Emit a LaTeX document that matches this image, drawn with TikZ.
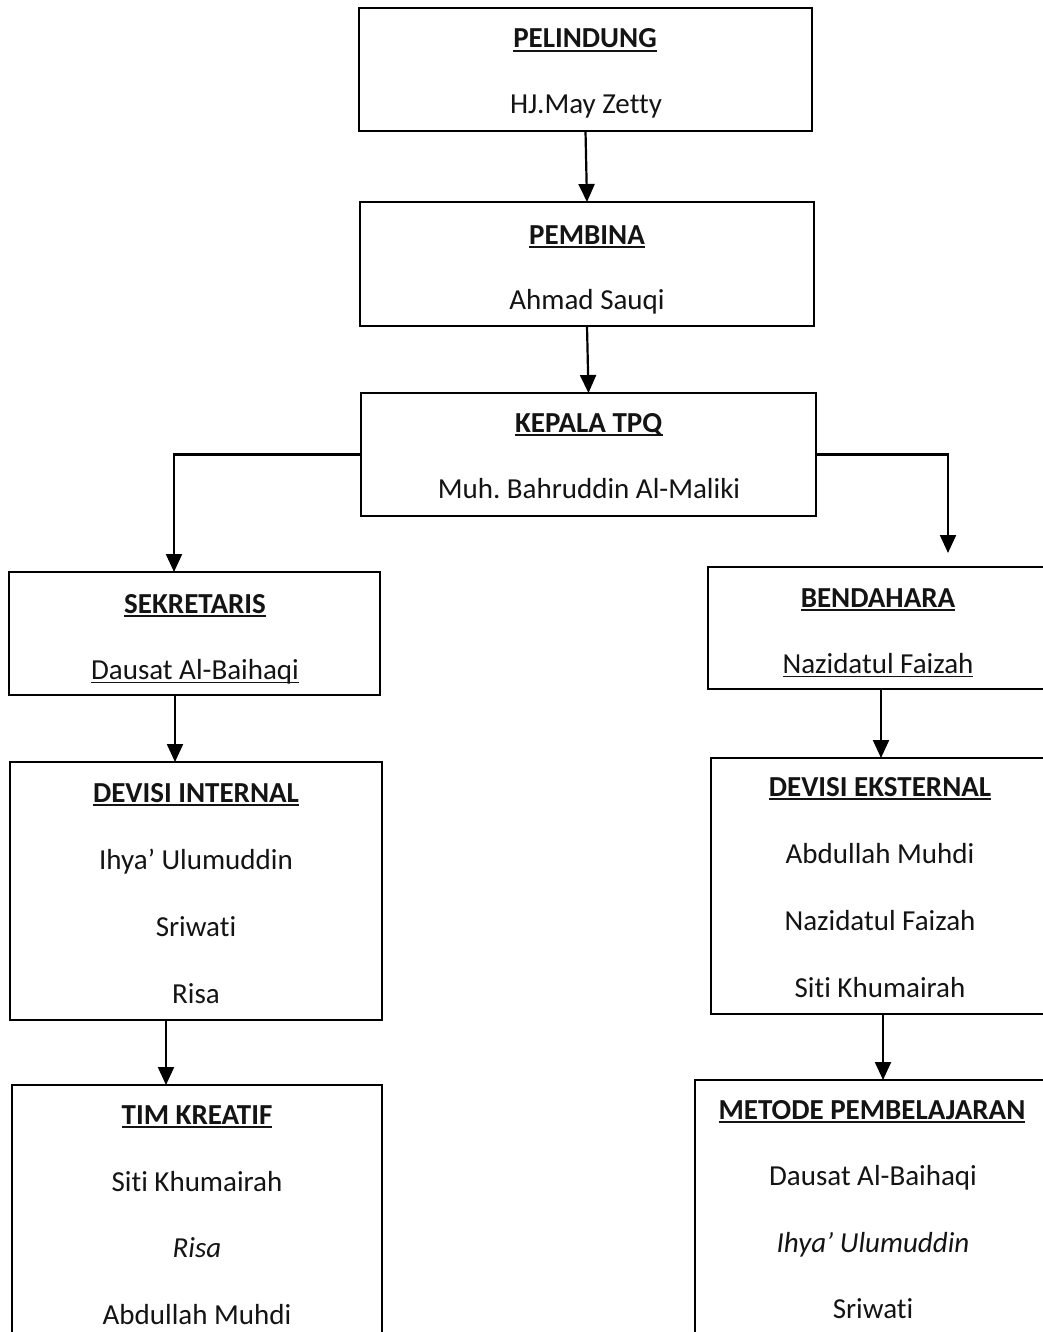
\documentclass[tikz,border=0pt]{standalone}
\usepackage{fontspec}
\setmainfont[Ligatures=NoCommon]{Carlito}
\usetikzlibrary{arrows.meta}
\newcommand\myul[2][1.8pt]{\setbox0\hbox{#2}\rlap{\rule[-4pt]{\wd0}{#1}}\box0}
\newcommand\mkbox[5]{\node[boxn, minimum width={#4-#2}, minimum height={#5-#3}] (#1) at ({(#2+#4)/2},{(#3+#5)/2}) {};}
\tikzset{
  boxn/.style={draw=black, line width=2.2pt, rectangle, inner sep=0pt, outer sep=0pt},
  lbl/.style={anchor=base, inner sep=0pt, font=\fontsize{29}{35}\selectfont, text=black!92},
  conn/.style={draw=black, line width=2.2pt, -{Triangle[width=16pt,length=18pt]}}
}
\begin{document}
\frenchspacing
\begin{tikzpicture}[x=1pt,y=-1pt]
\useasboundingbox (0,0) rectangle (1043,1332);
\clip (0,0) rectangle (1043,1332);
\fill[white] (0,0) rectangle (1043,1332);
% boxes
\mkbox{p1}{359}{8}{812}{131}
\mkbox{p2}{360}{202}{814}{326}
\mkbox{k}{361}{393}{816}{516}
\mkbox{s}{9}{572}{380}{695}
\mkbox{b}{708}{567}{1052}{689}
\mkbox{di}{10}{762}{382}{1020}
\mkbox{de}{711}{758}{1052}{1014}
\mkbox{tk}{12}{1085}{382}{1350}
\mkbox{m}{695}{1080}{1052}{1350}
% texts
\node[lbl] (t1) at (585,48) {\myul{\textbf{PELINDUNG}}};
\node[lbl] (n1) at (586,114) {HJ.May Zetty};
\node[lbl] (t2) at (587,244) {\myul{\textbf{PEMBINA}}};
\node[lbl] (n2) at (587,309) {Ahmad Sauqi};
\node[lbl] (t3) at (589,432) {\myul{\textbf{KEPALA TPQ}}};
\node[lbl] (n3) at (589,498) {Muh.\ Bahruddin Al-Maliki};
\node[lbl] (t4) at (195,613) {\myul{\textbf{SEKRETARIS}}};
\node[lbl] (n4) at (195,679) {\myul[1pt]{Dausat Al-Baihaqi}};
\node[lbl] (t5) at (878,607) {\myul{\textbf{BENDAHARA}}};
\node[lbl] (n5) at (878,673) {\myul[1pt]{Nazidatul Faizah}};
\node[lbl] (t6) at (196,802) {\myul{\textbf{DEVISI INTERNAL}}};
\node[lbl] (n6a) at (196,869) {Ihya’ Ulumuddin};
\node[lbl] (n6b) at (196,936) {Sriwati};
\node[lbl] (n6c) at (196,1003) {Risa};
\node[lbl] (t7) at (880,796) {\myul{\textbf{DEVISI EKSTERNAL}}};
\node[lbl] (n7a) at (880,863) {Abdullah Muhdi};
\node[lbl] (n7b) at (880,930) {Nazidatul Faizah};
\node[lbl] (n7c) at (880,997) {Siti Khumairah};
\node[lbl] (t8) at (197,1124) {\myul{\textbf{TIM KREATIF}}};
\node[lbl] (n8a) at (197,1191) {Siti Khumairah};
\node[lbl] (n8b) at (197,1257) {\itshape Risa};
\node[lbl] (n8c) at (197,1324) {Abdullah Muhdi};
\node[lbl] (t9) at (872,1119) {\myul{\textbf{METODE PEMBELAJARAN}}};
\node[lbl] (n9a) at (873,1185) {Dausat Al-Baihaqi};
\node[lbl] (n9b) at (873,1252) {\itshape Ihya’ Ulumuddin};
\node[lbl] (n9c) at (873,1318) {Sriwati};
% helper coordinates
\coordinate (xl) at (174,0);
\coordinate (bend) at (948,553);
\coordinate (xs) at (175,0);
\coordinate (xb) at (881,0);
\coordinate (xdi) at (166,0);
\coordinate (xde) at (883,0);
% connectors
\draw[conn] (p1.south) -- (p2.north);
\draw[conn] (p2.south) -- (k.north);
\draw[conn] (k.west) -| (s.north -| xl);
\draw[conn] (k.east) -| (bend);
\draw[conn] (s.south -| xs) -- (di.north -| xs);
\draw[conn] (b.south -| xb) -- (de.north -| xb);
\draw[conn] (di.south -| xdi) -- (tk.north -| xdi);
\draw[conn] (de.south -| xde) -- (m.north -| xde);
\end{tikzpicture}
\end{document}
